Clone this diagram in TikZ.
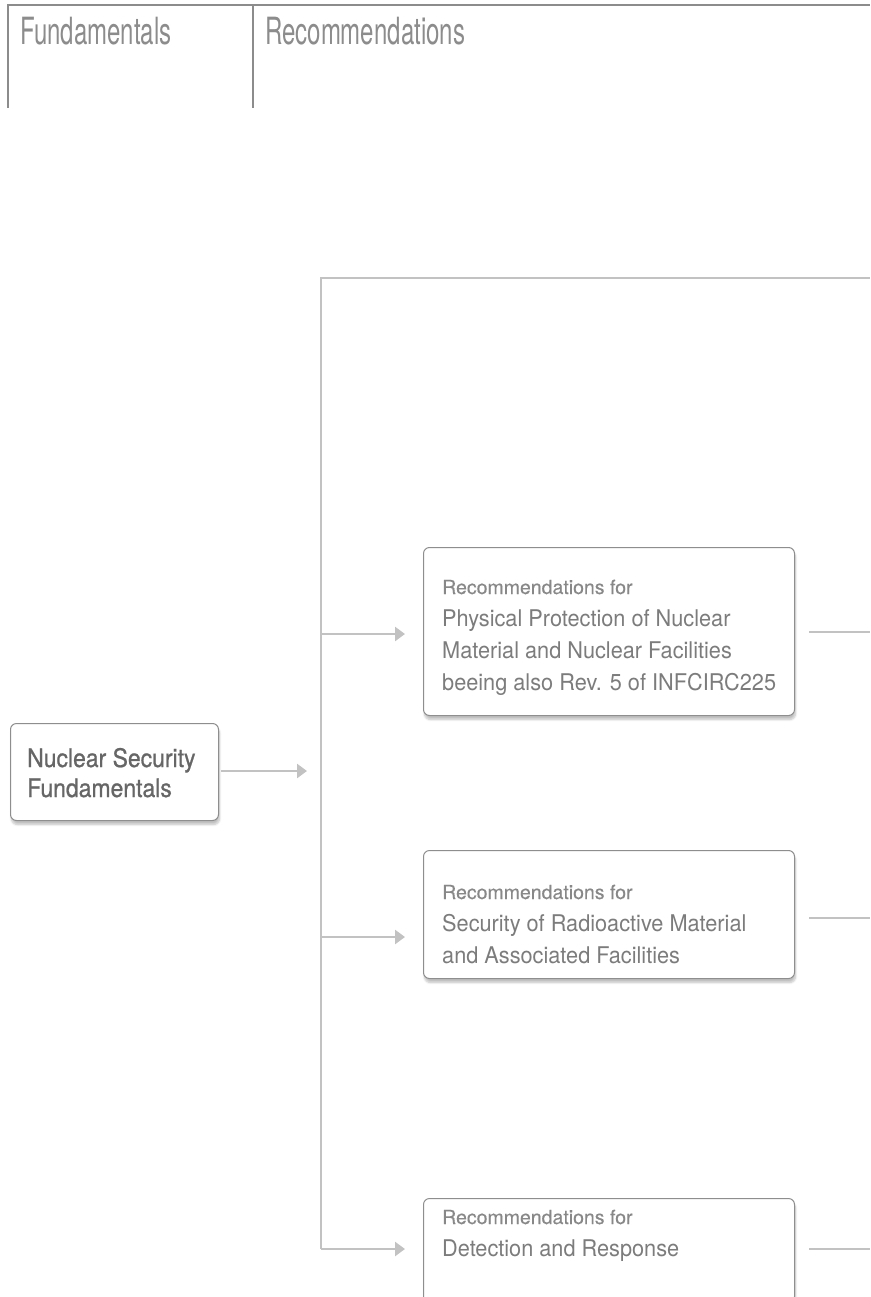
\documentclass[tikz,border=0pt]{standalone}
\usepackage{fontspec}
\setmainfont[FakeStretch=0.944]{TeX Gyre Heros}
\newfontfamily\titlefam[FakeStretch=0.64]{TeX Gyre Heros}
\newfontfamily\subfam[FakeStretch=1.0,FakeBold=0.3]{TeX Gyre Heros}
\newfontfamily\nsffam[FakeStretch=0.9,FakeBold=0.8]{TeX Gyre Heros}
\usetikzlibrary{arrows.meta,shadows.blur}
\definecolor{hdr}{HTML}{8C8C8C}
\definecolor{trunk}{HTML}{C2C2C2}
\definecolor{boxline}{HTML}{8E8E8E}
\definecolor{txtmain}{HTML}{7C7C7C}
\definecolor{txtsub}{HTML}{888888}
\definecolor{txtnsf}{HTML}{666666}
\tikzset{
  hline/.style={draw=hdr,line width=2pt},
  trunkline/.style={draw=trunk,line width=2.5pt},
  conn/.style={draw=trunk,line width=2.5pt,-{Triangle[length=10pt,width=14pt]}},
  recbox/.style={draw=boxline,line width=1pt,rounded corners=6pt,fill=white,
    anchor=north west,inner sep=0pt,
    blur shadow={shadow xshift=1pt,shadow yshift=-4pt,shadow blur steps=6,shadow opacity=25}},
  rectext/.style={anchor=base west,inner sep=0pt,align=left,text=txtmain,
    font=\fontsize{23}{32}\selectfont},
  title/.style={anchor=base west,text=hdr,font=\titlefam\fontsize{37.5}{40}\selectfont,inner sep=0pt},
}
\newcommand{\subline}[1]{{\subfam\fontsize{19.5}{32}\selectfont\color{txtsub}#1}}
\begin{document}
\begin{tikzpicture}[x=1pt,y=-1pt]
\useasboundingbox (0,0) rectangle (870,1297);
% header
\draw[hline] (8,108) -- (8,5) -- (870,5);
\draw[hline] (253,5) -- (253,108);
\node[title] (tf) at (20,45) {Fundamentals};
\node[title] (tr) at (265,45) {Recommendations};
% trunk frame
\coordinate (ttop) at (321,278);
\coordinate (tright) at (870,278);
\coordinate (tbot) at (321,1249);
\draw[trunkline] (tright) -- (ttop) -- (tbot);
% boxes (text anchored at the baseline of its last line)
\node[recbox,minimum width=208pt,minimum height=97pt] (nsf) at (10,723) {};
\node[rectext,text=txtnsf,font=\nsffam\fontsize{25.5}{30}\selectfont] (nsft) at (27,797) {Nuclear Security\\Fundamentals};
\node[recbox,minimum width=371pt,minimum height=168pt] (b1) at (423,547) {};
\node[rectext] (b1t) at (442,690) {\subline{Recommendations for}\\Physical Protection of Nuclear\\Material and Nuclear Facilities\\beeing also Rev. 5 of INFCIRC225};
\node[recbox,minimum width=371pt,minimum height=128pt] (b2) at (423,850) {};
\node[rectext] (b2t) at (442,963) {\subline{Recommendations for}\\Security of Radioactive Material\\and Associated Facilities};
\node[recbox,minimum width=371pt,minimum height=104pt] (b3) at (423,1198) {};
\node[rectext] (b3t) at (442,1256) {\subline{Recommendations for}\\Detection and Response};
% connectors
\coordinate (nsfend) at (307,771);
\draw[conn] ([xshift=2pt]nsf.east |- nsfend) -- (nsfend);
\coordinate (t1) at (321,634);
\coordinate (t2) at (321,937);
\coordinate (e1) at (405,634);
\coordinate (e2) at (405,937);
\coordinate (e3) at (405,1249);
\draw[conn] (t1) -- (e1);
\draw[conn] (t2) -- (e2);
\draw[conn] (tbot) -- (e3);
\coordinate (r1) at (870,632);
\coordinate (r2) at (870,918);
\coordinate (r3) at (870,1249);
\draw[trunkline] ([xshift=14pt]b1.east |- r1) -- (r1);
\draw[trunkline] ([xshift=14pt]b2.east |- r2) -- (r2);
\draw[trunkline] ([xshift=14pt]b3.east |- r3) -- (r3);
\end{tikzpicture}
\end{document}
